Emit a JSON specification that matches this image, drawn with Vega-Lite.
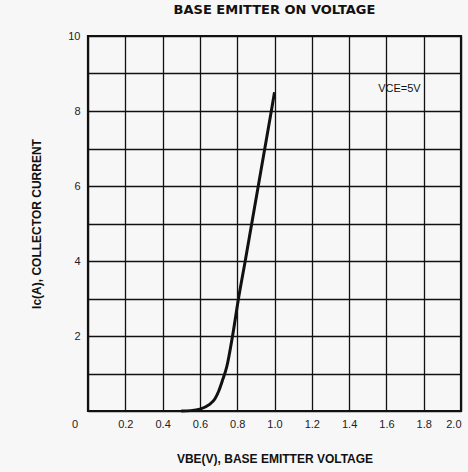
{
  "$schema": "https://vega.github.io/schema/vega-lite/v6.json",
  "width": 373,
  "height": 375,
  "autosize": "none",
  "padding": {"left": 88, "top": 36, "right": 7, "bottom": 61},
  "background": "#f7f7f7",
  "config": {
    "font": "Liberation Sans",
    "view": {"stroke": "#111", "strokeWidth": 2.2},
    "axis": {
      "grid": true,
      "gridColor": "#111",
      "gridWidth": 1.3,
      "gridOpacity": 1,
      "domain": false,
      "ticks": false,
      "labelOverlap": false,
      "labelFont": "Liberation Sans",
      "labelFontSize": 11,
      "labelColor": "#222",
      "titleFont": "Liberation Sans",
      "titleFontSize": 12,
      "titleFontWeight": "bold",
      "titleColor": "#111"
    }
  },
  "title": {
    "text": "BASE EMITTER ON VOLTAGE",
    "font": "DejaVu Sans",
    "fontSize": 13,
    "fontWeight": 900,
    "color": "#111",
    "offset": 13
  },
  "datasets": {
    "curve": [
      {"vbe": 0.50, "ic": 0.0},
      {"vbe": 0.55, "ic": 0.01},
      {"vbe": 0.60, "ic": 0.05},
      {"vbe": 0.65, "ic": 0.17},
      {"vbe": 0.68, "ic": 0.32},
      {"vbe": 0.70, "ic": 0.52},
      {"vbe": 0.72, "ic": 0.8},
      {"vbe": 0.745, "ic": 1.2},
      {"vbe": 0.775, "ic": 2.0},
      {"vbe": 0.807, "ic": 3.0},
      {"vbe": 0.843, "ic": 4.0},
      {"vbe": 0.878, "ic": 5.0},
      {"vbe": 0.913, "ic": 6.0},
      {"vbe": 0.948, "ic": 7.0},
      {"vbe": 0.983, "ic": 8.0},
      {"vbe": 1.0, "ic": 8.5}
    ],
    "labels": [
      {"vbe": 1.67, "ic": 8.6, "text": "VCE=5V"}
    ],
    "origin": [
      {"vbe": 0, "ic": 0, "text": "0"}
    ]
  },
  "layer": [
    {
      "data": {"name": "curve"},
      "mark": {"type": "line", "color": "#111", "strokeWidth": 3, "interpolate": "monotone"},
      "encoding": {
        "x": {
          "field": "vbe",
          "type": "quantitative",
          "scale": {"domain": [0, 2], "nice": false, "zero": false},
          "axis": {
            "values": [0, 0.2, 0.4, 0.6, 0.8, 1.0, 1.2, 1.4, 1.6, 1.8, 2.0],
            "tickCount": 30,
            "format": ".1f",
            "labelExpr": "datum.value == 0 ? '' : datum.label",
            "labelPadding": 7,
            "labelFlush": true,
            "title": "VBE(V), BASE EMITTER VOLTAGE",
            "titlePadding": 24
          }
        },
        "y": {
          "field": "ic",
          "type": "quantitative",
          "scale": {"domain": [0, 10], "nice": false},
          "axis": {
            "values": [0, 1, 2, 3, 4, 5, 6, 7, 8, 9, 10],
            "tickCount": 30,
            "format": "d",
            "labelExpr": "datum.value % 2 == 0 && datum.value > 0 ? datum.label : ''",
            "labelPadding": 8,
            "title": "Ic(A), COLLECTOR CURRENT",
            "titlePadding": 24
          }
        }
      }
    },
    {
      "data": {"name": "labels"},
      "mark": {"type": "text", "font": "Liberation Sans", "fontSize": 11, "color": "#111"},
      "encoding": {
        "x": {"field": "vbe", "type": "quantitative"},
        "y": {"field": "ic", "type": "quantitative"},
        "text": {"field": "text"}
      }
    },
    {
      "data": {"name": "origin"},
      "mark": {"type": "text", "font": "Liberation Sans", "fontSize": 11, "color": "#222", "dx": -13, "dy": 14, "clip": false},
      "encoding": {
        "x": {"field": "vbe", "type": "quantitative"},
        "y": {"field": "ic", "type": "quantitative"},
        "text": {"field": "text"}
      }
    }
  ]
}
